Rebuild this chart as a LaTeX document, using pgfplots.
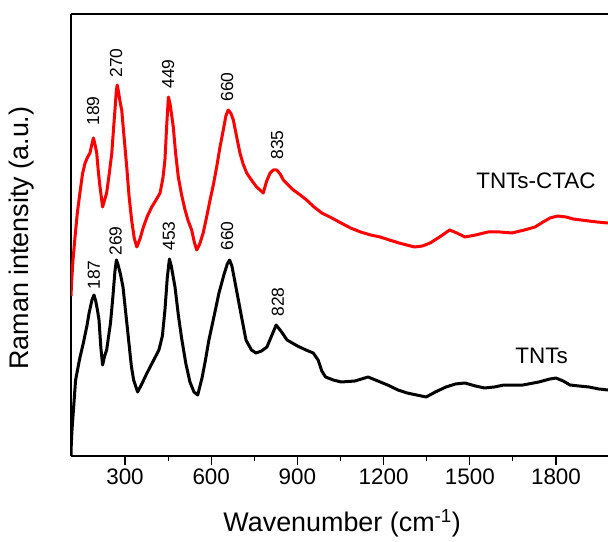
\documentclass[border=0pt]{standalone}
\usepackage{fontspec}
\setmainfont{Liberation Sans}
\usepackage{pgfplots}
\pgfplotsset{compat=1.18}
\begin{document}
\begin{tikzpicture}
\begin{axis}[
  scale only axis,
  width=537bp, height=442bp,
  xmin=112, xmax=1981, ymin=0, ymax=442,
  axis x line*=box, axis y line*=left,
  axis line style={-, line width=1.3bp, black},
  xtick={300,600,...,1800},
  minor x tick num=1,
  xtick pos=left,
  tick align=outside,
  major tick length=9bp, minor tick length=5bp,
  every tick/.style={black, line width=1.1bp},
  ytick=\empty,
  /pgf/number format/assume math mode=true,
  /pgf/number format/1000 sep={},
  ticklabel style={font=\fontsize{22.5}{27}\selectfont},
  xlabel={Wavenumber (cm\textsuperscript{-1})},
  ylabel={Raman intensity (a.u.)},
  every axis x label/.style={at={(axis description cs:0.505,-0.152)}, anchor=center, font=\fontsize{27}{32}\selectfont},
  every axis y label/.style={at={(axis description cs:-0.0912,0.493)}, anchor=center, rotate=90, font=\fontsize{27}{32}\selectfont},
  clip=true,
]
\addplot[black, line width=3bp, line join=round] coordinates {
(112,0) (113,12) (115.5,26) (119,40) (128,76) (142,97) (155,113) (168,131) (175,143) (185,156) (192,161) (198,155)
(204,146) (209.5,136) (216,108) (222,91) (229,100) (236,106) (249.5,133) (258,160) (265,185) (270,196) (276,191) (284,182) (293,169) (310,123)
(322,90) (330,76) (344,64) (360,73) (376.6,83) (400,96) (418,106) (430,120) (439,146) (447,178) (454.5,197) (461,190) (474,169)
(486,140) (498,116) (512,92) (526,74) (540,64) (553,61) (568,78) (580,96) (592,116) (610,140) (627,163) (645,182) (656,192) (664,196) (672,190) (686,169)
(703,143) (721,116) (740,106) (756,103) (775,105) (794,109) (810,120) (826,131) (845,124) (864,116) (900,110) (930,106) (955,103) (972,96)
(985,85) (998,79) (1025,76) (1052,74) (1100,75) (1146,79) (1180,75) (1214,71) (1250,66) (1282,63) (1315,61) (1348,59) (1380,64) (1417,69)
(1450,72) (1483,73) (1520,70) (1551,68) (1585,69) (1619,71) (1655,71) (1685,71) (1740,74) (1779,77) (1800,78) (1825,75) (1849,71)
(1880,70) (1915,69) (1950,67) (1981,66)
};
\addplot[red, line width=3bp, line join=round] coordinates {
(112,160) (114.5,176) (119,196) (126,219) (134,243) (143,263) (152,282) (161,293) (170,299) (178,303) (184,311) (190,318) (196,311)
(201.5,303) (207,285) (213,269) (222,249) (228,255) (236,263) (245,282) (254,303) (260,327) (265,346) (270,366) (273,371) (278,363) (283,354)
(288.5,346) (297,318) (306,289) (314,260) (323,236) (332,218) (341,209) (352,217) (364,229) (378,240) (393,249) (408,256) (422,263)
(432,278) (439,296) (445,330) (451,359) (457,352) (468,329) (476,303) (485.5,279) (497,261) (509,246) (520,235) (532,226) (541,214) (549.6,206)
(560,212) (572,223) (584,239) (596,256) (608,272) (619,289) (630,308) (642,326) (651,340) (659,346) (668,343) (677,336) (688,320) (700,303)
(711,292) (723.6,283) (740,276) (758,269) (770,266) (781,263) (793,275) (805,283) (816,286) (828,286) (840,282) (851,276) (868,271) (886,266)
(910,261) (932,256) (958,249) (985,243) (1020,238) (1052,233) (1085,228) (1120,224) (1155,221) (1188,219) (1220,216) (1254,213) (1280,211) (1308,209)
(1335,210) (1362,213) (1400,220) (1430,226) (1455,223) (1483,219) (1520,221) (1563,224) (1605,224) (1646,223) (1690,226) (1727,229) (1755,234) (1779,238)
(1805,240) (1835,239) (1860,237) (1887,236) (1915,235) (1943,234) (1981,233)
};
\begin{scope}[every node/.style={font=\fontsize{17.5}{21}\selectfont, rotate=90, anchor=center}]
\node at (axis cs:189,345) {189};
\node at (axis cs:269,393) {270};
\node at (axis cs:450,382) {449};
\node at (axis cs:655,369) {660};
\node at (axis cs:829,311) {835};
\node at (axis cs:192,181) {187};
\node at (axis cs:267,215) {269};
\node at (axis cs:453,220) {453};
\node at (axis cs:655,220) {660};
\node at (axis cs:832,154) {828};
\end{scope}
\node[font=\fontsize{22.5}{27}\selectfont, anchor=center] at (axis cs:1730,275) {TNTs-CTAC};
\node[font=\fontsize{22.5}{27}\selectfont, anchor=center] at (axis cs:1750,100) {TNTs};
\coordinate (SW) at (axis description cs:-0.13222,-0.19457);
\coordinate (NE) at (axis description cs:1,1.03167);
\end{axis}
\pgfresetboundingbox
\useasboundingbox (SW) rectangle (NE);
\end{tikzpicture}
\end{document}
